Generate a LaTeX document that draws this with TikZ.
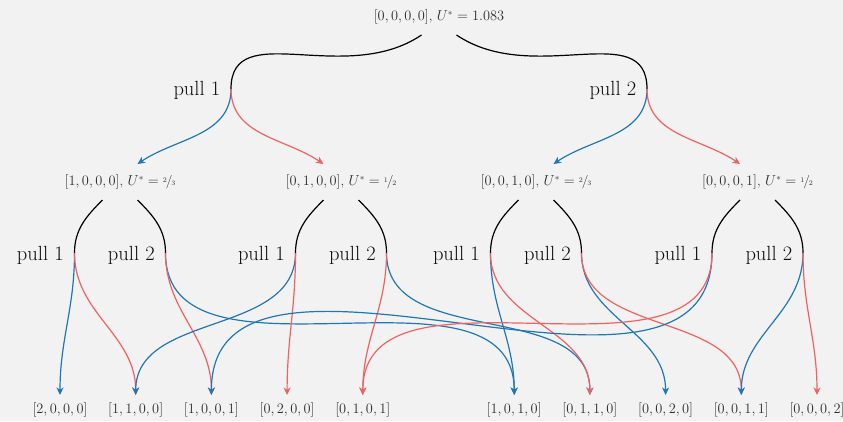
\documentclass[tikz,border=0pt]{standalone}
\usetikzlibrary{arrows.meta,calc}
\definecolor{bg}{HTML}{F2F2F2}
\definecolor{cblue}{HTML}{1F77B4}
\definecolor{cred}{HTML}{F06262}
\definecolor{ctext}{HTML}{2E2E2E}
\newcommand\myfrac[2]{\raisebox{0.55ex}{\scriptsize #1}\kern-0.08em/\kern-0.08em{\scriptsize #2}}
\begin{document}
\begin{tikzpicture}[x=1pt,y=1pt,
  state/.style={text=ctext, font=\fontsize{13.5}{16}\selectfont, inner sep=0pt},
  pulllab/.style={anchor=east, text=black!95, font=\fontsize{20.5}{24}\selectfont, inner sep=0pt},
  blk/.style={draw=black, line width=1.2pt},
  bl/.style={draw=cblue, line width=1.2pt, -{Stealth[length=7.5pt,width=7pt,inset=2.2pt]}},
  rd/.style={draw=cred, line width=1.2pt, -{Stealth[length=7.5pt,width=7pt,inset=2.2pt]}}]
\fill[bg] (0,0) rectangle (843,-421);
\useasboundingbox (0,0) rectangle (843,-421);

% root
\node[state] (root) at (439,-17) {$[0,0,0,0]$, $U^{*} = 1.083$};
\coordinate (r-oL) at ($(root)+(-17.5,-18)$);
\coordinate (r-oR) at ($(root)+(17.5,-18)$);
\coordinate (P01) at (231,-89);
\coordinate (P02) at (647,-89);
\node[pulllab] (lP01) at ($(P01)+(-10.5,-1)$) {pull 1};
\node[pulllab] (lP02) at ($(P02)+(-10.5,-1)$) {pull 2};
\draw[blk] (r-oL) .. controls ($(r-oL)+(-77,-52)$) and ($(P01)+(0,72)$) .. (P01);
\draw[blk] (r-oR) .. controls ($(r-oR)+(77,-52)$) and ($(P02)+(0,72)$) .. (P02);

% level 1
\node[state] (n1000) at (120,-182) {$[1,0,0,0]$, $U^{*} = \mbox{\myfrac{2}{3}}$};
\node[state] (n0100) at (341,-182) {$[0,1,0,0]$, $U^{*} = \mbox{\myfrac{1}{2}}$};
\node[state] (n0010) at (536,-182) {$[0,0,1,0]$, $U^{*} = \mbox{\myfrac{2}{3}}$};
\node[state] (n0001) at (757.5,-182) {$[0,0,0,1]$, $U^{*} = \mbox{\myfrac{1}{2}}$};
\foreach \n in {n1000,n0100,n0010,n0001}{
  \coordinate (\n-iL) at ($(\n)+(-17.5,18)$);
  \coordinate (\n-iR) at ($(\n)+(17.5,18)$);
  \coordinate (\n-oL) at ($(\n)+(-17.5,-18)$);
  \coordinate (\n-oR) at ($(\n)+(17.5,-18)$);
  \coordinate (\n-pA) at ($(\n)+(-45.5,-71)$);
  \coordinate (\n-pB) at ($(\n)+(45.5,-71)$);
  \node[pulllab] (\n-lA) at ($(\n-pA)+(-10.5,-2)$) {pull 1};
  \node[pulllab] (\n-lB) at ($(\n-pB)+(-10.5,-2)$) {pull 2};
  \draw[blk] (\n-oL) to[out=225,in=90] (\n-pA);
  \draw[blk] (\n-oR) to[out=-45,in=90] (\n-pB);
}
\draw[bl] (P01) to[out=-90,in=34] (n1000-iR);
\draw[rd] (P01) to[out=-90,in=146] (n0100-iL);
\draw[bl] (P02) to[out=-90,in=34] (n0010-iR);
\draw[rd] (P02) to[out=-90,in=146] (n0001-iL);

% level 2
\foreach \n/\x/\t in {b2000/60/{[2,0,0,0]}, b1100/135.7/{[1,1,0,0]}, b1001/211.4/{[1,0,0,1]},
  b0200/287.1/{[0,2,0,0]}, b0101/362.8/{[0,1,0,1]}, b1010/514.2/{[1,0,1,0]},
  b0110/589.9/{[0,1,1,0]}, b0020/665.6/{[0,0,2,0]}, b0011/741.3/{[0,0,1,1]},
  b0002/817/{[0,0,0,2]}}{
  \node[state] (\n) at (\x,-410) {$\t$};
  \coordinate (\n-t) at (\x,-395);
}
\draw[bl] (n1000-pA) to[out=-90,in=90] (b2000-t);
\draw[rd] (n1000-pA) to[out=-90,in=90] (b1100-t);
\draw[bl] (n1000-pB) to[out=-90,in=90] (b1010-t);
\draw[rd] (n1000-pB) to[out=-90,in=90] (b1001-t);
\draw[bl] (n0100-pA) to[out=-90,in=90] (b1100-t);
\draw[rd] (n0100-pA) to[out=-90,in=90] (b0200-t);
\draw[bl] (n0100-pB) to[out=-90,in=90] (b0110-t);
\draw[rd] (n0100-pB) to[out=-90,in=90] (b0101-t);
\draw[bl] (n0010-pA) to[out=-90,in=90] (b1010-t);
\draw[rd] (n0010-pA) to[out=-90,in=90] (b0110-t);
\draw[bl] (n0010-pB) to[out=-90,in=90] (b0020-t);
\draw[rd] (n0010-pB) to[out=-90,in=90] (b0011-t);
\draw[bl] (n0001-pA) to[out=-90,in=90] (b1001-t);
\draw[rd] (n0001-pA) to[out=-90,in=90] (b0101-t);
\draw[bl] (n0001-pB) to[out=-90,in=90] (b0011-t);
\draw[rd] (n0001-pB) to[out=-90,in=90] (b0002-t);
\end{tikzpicture}
\end{document}
